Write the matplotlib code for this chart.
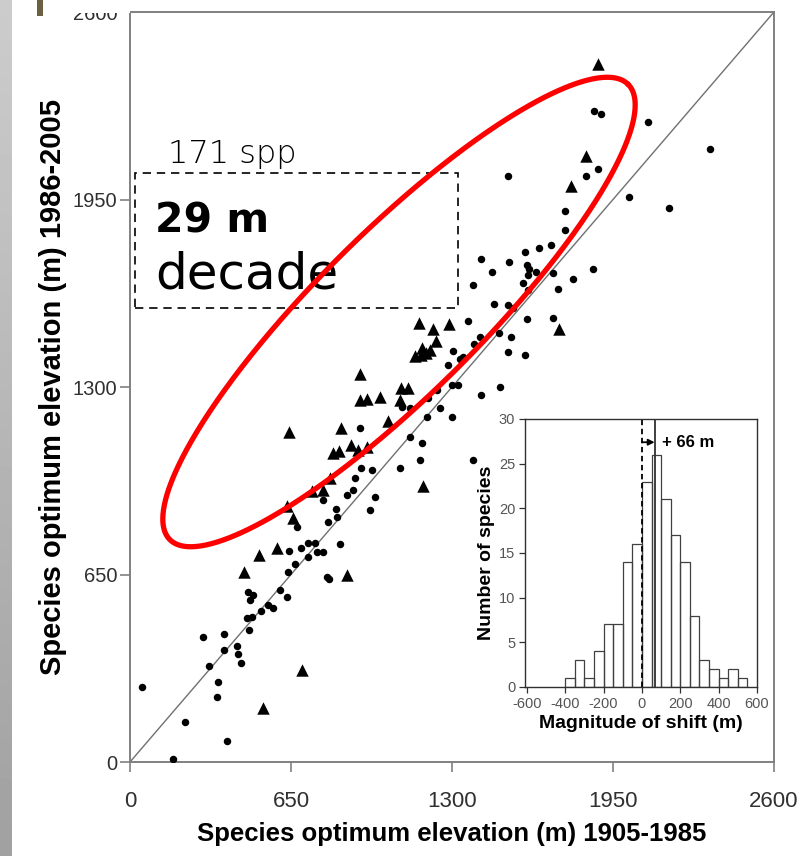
import numpy as np
import matplotlib
matplotlib.use("Agg")
import matplotlib.pyplot as plt
from matplotlib import font_manager
from matplotlib.patches import Rectangle

plt.rcParams['axes.unicode_minus'] = False

# ---------------- data ----------------
circ_x = [1873, 1901, 2091, 2341, 1526, 1841, 1889, 2014, 2176, 1756, 1756, 1700, 1651, 1595,
          1417, 1530, 1603, 1611, 1639, 1607, 1708, 1869, 1461, 1385, 1587, 1788, 1728, 1607,
          1469, 1526, 1546, 1365, 1603, 1708, 1413, 1490, 1538,
          1389, 1526, 1595, 1304, 1332, 1344, 1284, 1300, 1324, 1494, 1417, 1251, 1300,
          1239, 1203, 1199, 1130, 1179, 1098, 1130,
          1171, 1090, 929,
          933, 977, 908, 900, 876, 989, 969, 779, 832, 836, 799, 674, 848, 719, 747, 690,
          642, 755, 779, 719, 666,
          638, 795, 803, 476, 497, 606, 634,
          48, 174, 222, 392, 295, 319, 351, 355, 379, 379, 432, 436, 448, 480, 472, 493,
          484, 529, 557, 577,
          1385]
circ_y = [2256, 2246, 2218, 2125, 2031, 2031, 2055, 1958, 1920, 1910, 1844, 1792, 1782, 1768,
          1743, 1733, 1723, 1709, 1698, 1688, 1695, 1709, 1698, 1653, 1660, 1674, 1639, 1636,
          1587, 1584, 1574, 1529, 1535, 1539, 1473, 1487, 1473,
          1449, 1421, 1411, 1425, 1397, 1404, 1376, 1307, 1307, 1300, 1272, 1227, 1196,
          1289, 1262, 1196, 1126, 1106, 1230, 1227,
          1047, 1019, 1158,
          1019, 1012, 984, 943, 925, 918, 873, 908, 877, 849, 832, 815, 756, 759, 759, 742,
          731, 728, 728, 711, 686,
          659, 641, 634, 589, 579, 596, 572,
          260, 10, 139, 73, 433, 333, 225, 277, 444, 388, 402, 374, 343, 458, 499, 503,
          561, 523, 544, 534,
          1047]

tri_x = [1889, 1841, 1780, 1732, 1167, 1223, 1288, 1235, 1179, 1211, 1151, 1175, 1195,
         929, 929, 957, 1009, 1094, 1122, 1090, 1042, 852, 642, 820, 844, 892, 920, 957,
         807, 735, 779, 634, 658, 593, 521, 460, 876, 694, 537, 1183]
tri_y = [2419, 2100, 1996, 1501, 1522, 1501, 1518, 1459, 1435, 1428, 1407, 1411, 1418,
         1345, 1255, 1258, 1265, 1296, 1296, 1255, 1182, 1158, 1144, 1071, 1078, 1099, 1081, 1092,
         984, 939, 943, 887, 846, 742, 717, 659, 648, 319, 187, 957]

main_ticks = [0, 650, 1300, 1950, 2600]

hist_edges = list(range(-400, 551, 50))
hist_counts = [1, 3, 1, 4, 7, 7, 14, 16, 23, 26, 21, 17, 14, 8, 3, 2, 1, 2, 1]
hist_xticks = [-600, -400, -200, 0, 200, 400, 600]
hist_yticks = [0, 5, 10, 15, 20, 25, 30]
mean_shift = 66

# annotation geometry (data units of main axes)
box_x0, box_x1, box_y0, box_y1 = 20, 1324, 1574, 2041
ell_cx, ell_cy = 1086, 1560          # ellipse centre (data)
ell_a_px, ell_b_px, ell_ang = 323, 81, 44.8   # semi-axes in pixels, angle in degrees

# ---------------- fonts ----------------
names = {f.name for f in font_manager.fontManager.ttflist}
HAS_NARROW = 'Liberation Sans Narrow' in names
NARROW = 'Liberation Sans Narrow' if HAS_NARROW else 'Liberation Sans'
NK = 1.2 if HAS_NARROW else 1.0   # size factor when a narrow face exists
SANS = 'Liberation Sans'

W, H = 803, 856
fig = plt.figure(figsize=(W / 100, H / 100), dpi=100)
fig.patch.set_facecolor('white')

# left gray strip (background artefact)
bg = fig.add_axes([0, 0, 12 / W, 1])
grad = np.linspace(0.80, 0.63, 200).reshape(-1, 1)
bg.imshow(grad, aspect='auto', cmap='gray', vmin=0, vmax=1, extent=[0, 1, 0, 1])
bg.set_axis_off()

ax = fig.add_axes([130 / W, 1 - 762 / H, 644 / W, 750 / H])
ax.set_xlim(0, 2600)
ax.set_ylim(0, 2600)

# 1:1 line
ax.plot([0, 2600], [0, 2600], color='#707070', lw=1.0, zorder=1)

ax.scatter(circ_x, circ_y, s=29, marker='o', color='black', linewidths=0, zorder=3)
ax.scatter(tri_x, tri_y, s=80, marker='^', color='black', linewidths=0, zorder=3)

for sp in ax.spines.values():
    sp.set_color('#808080')
    sp.set_linewidth(1.4)
ax.set_xticks(main_ticks)
ax.set_yticks(main_ticks)
ax.tick_params(axis='both', direction='out', length=7, width=1.2, color='#808080')
ax.tick_params(axis='x', pad=14)
ax.tick_params(axis='y', pad=2)
for lab in ax.get_xticklabels():
    lab.set_fontfamily(NARROW); lab.set_fontsize(16 * NK); lab.set_color('#303030')
for lab in ax.get_yticklabels():
    lab.set_fontfamily(SANS); lab.set_fontsize(14.5); lab.set_color('#303030')

ax.set_xlabel('Species optimum elevation (m) 1905-1985', fontfamily=NARROW,
              fontweight='bold', fontsize=18.5 * NK, labelpad=7)
ax.set_ylabel('Species optimum elevation (m) 1986-2005', fontfamily=SANS,
              fontweight='bold', fontsize=21, labelpad=4)

# dashed text box
ax.add_patch(Rectangle((box_x0, box_y0), box_x1 - box_x0, box_y1 - box_y0, fill=False,
                       ls=(0, (5, 3.5)), lw=1.2, edgecolor='black', zorder=4))
ax.text(153, 2076, '171 spp', fontfamily='DejaVu Sans', fontweight=200, fontsize=23,
        va='baseline', ha='left', zorder=5)
ax.text(101, 1837, '29 m', fontfamily='DejaVu Sans', fontweight='bold', fontsize=29.5,
        va='baseline', ha='left', zorder=5)
ax.text(101, 1643, 'decade', fontfamily='DejaVu Sans', fontsize=36,
        va='baseline', ha='left', zorder=5)

# red ellipse
cx, cy = ax.transData.transform((ell_cx, ell_cy))
t = np.linspace(0, 2 * np.pi, 500)
ang = np.deg2rad(ell_ang)
ex = ell_a_px * np.cos(t) * np.cos(ang) - ell_b_px * np.sin(t) * np.sin(ang)
ey = ell_a_px * np.cos(t) * np.sin(ang) + ell_b_px * np.sin(t) * np.cos(ang)
pts = ax.transData.inverted().transform(np.column_stack([cx + ex, cy + ey]))
ax.plot(pts[:, 0], pts[:, 1], color='#ff0000', lw=3.8, zorder=6, solid_capstyle='round')

# ---------------- inset histogram ----------------
ins = fig.add_axes([525 / W, 1 - 687 / H, 232 / W, 268 / H], zorder=10)
ins.set_facecolor('white')
ins.bar(hist_edges[:-1], hist_counts, width=50, align='edge', fill=False,
        edgecolor='#404040', linewidth=0.9)
ins.set_xlim(-610, 600)
ins.set_ylim(0, 30)
ins.axvline(0, color='black', ls=(0, (3, 2)), lw=1.3)
ins.axvline(mean_shift, color='#303030', lw=1.3)
ins.annotate('', xy=(mean_shift, 27.4), xytext=(0, 27.4),
             arrowprops=dict(arrowstyle='-|>', color='black', lw=1.3,
                             mutation_scale=9, shrinkA=0, shrinkB=0))
ins.text(105, 27.4, '+ 66 m', fontfamily=NARROW, fontweight='bold', fontsize=12,
         va='center', ha='left')
ins.set_xticks(hist_xticks)
ins.set_yticks(hist_yticks)
for sp in ins.spines.values():
    sp.set_color('#303030')
    sp.set_linewidth(1.0)
ins.tick_params(axis='both', direction='out', length=4, width=0.9, color='#303030', pad=3)
for lab in ins.get_xticklabels() + ins.get_yticklabels():
    lab.set_fontfamily(NARROW); lab.set_fontsize(10.5); lab.set_color('#555555')
ins.set_xlabel('Magnitude of shift (m)', fontfamily=NARROW, fontweight='bold',
               fontsize=14 * NK, labelpad=3)
ins.set_ylabel('Number of species', fontfamily=SANS, fontweight='bold', fontsize=14,
               labelpad=3)

# top-left overlay artefacts
fig.add_artist(Rectangle((60 / W, 1 - 13 / H), 70 / W, 13 / H, transform=fig.transFigure,
                         facecolor='white', edgecolor='none', zorder=20))
fig.add_artist(Rectangle((37 / W, 1 - 16 / H), 6 / W, 16 / H, transform=fig.transFigure,
                         facecolor='#6b6040', edgecolor='none', zorder=21))

fig.savefig('out.png', dpi=100)
